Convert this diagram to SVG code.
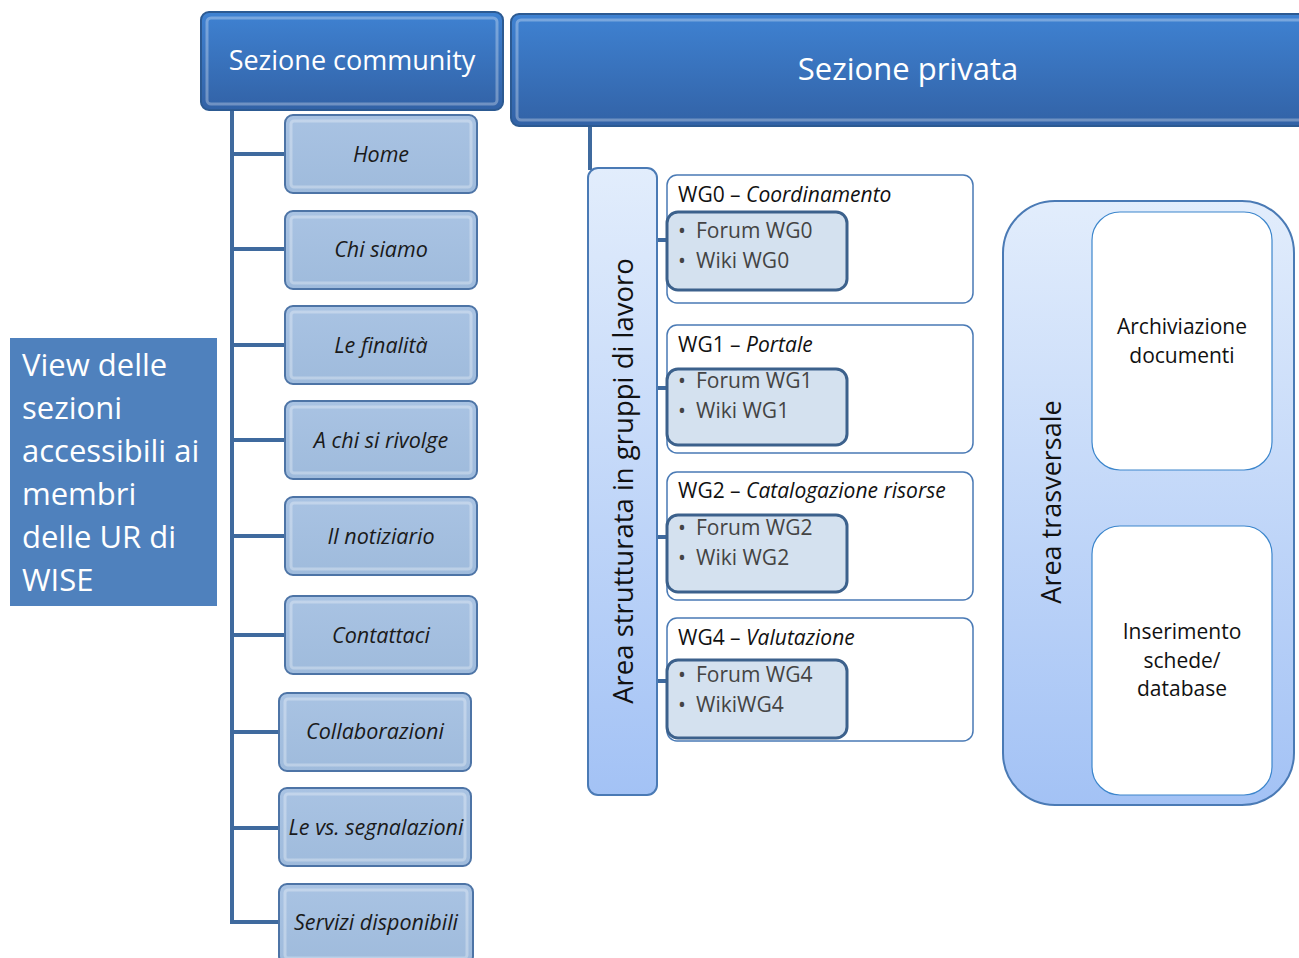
<svg xmlns="http://www.w3.org/2000/svg" width="1299" height="958" viewBox="0 0 1299 958">
<style>
.txt{font-family:"Open Sans","Liberation Sans",sans-serif}
.head{fill:url(#gHead);stroke:#2c5a92;stroke-width:2}
.child{fill:url(#gChild);stroke:#4d74a6;stroke-width:2}
.bevel{fill:none;stroke:#ffffff;stroke-opacity:0.3;stroke-width:3}
.ctext{font-family:"Open Sans","Liberation Sans",sans-serif;font-style:italic;font-size:21.5px;fill:#1a1a1a;text-anchor:middle}
.htext{font-family:"Open Sans","Liberation Sans",sans-serif;fill:#ffffff;text-anchor:middle}
.conn{stroke:#3f6a9e;stroke-width:4;fill:none}
.wg{fill:#ffffff;stroke:#4a7ab5;stroke-width:1.5}
.inner{fill:#d4e1ef;stroke:#3c618c;stroke-width:3}
.wgt{font-family:"Open Sans","Liberation Sans",sans-serif;font-size:21px;fill:#111}
.bul{font-family:"Open Sans","Liberation Sans",sans-serif;font-size:21px;fill:#444}
.side{font-family:"Open Sans","Liberation Sans",sans-serif;font-size:21px;fill:#111;text-anchor:middle}
</style>
<defs>
<linearGradient id="gHead" x1="0" y1="0" x2="0" y2="1">
<stop offset="0" stop-color="#3f82d2"/>
<stop offset="1" stop-color="#3262a6"/>
</linearGradient>
<linearGradient id="gChild" x1="0" y1="0" x2="0" y2="1">
<stop offset="0" stop-color="#a9c3e3"/>
<stop offset="1" stop-color="#9fbbdc"/>
</linearGradient>
<linearGradient id="gArea" x1="0" y1="0" x2="0" y2="1">
<stop offset="0" stop-color="#e2edfc"/>
<stop offset="1" stop-color="#a3c2f5"/>
</linearGradient>
</defs>

<g id="connectors">
<line class="conn" x1="232" y1="110" x2="232" y2="924"/>
<line class="conn" x1="230" y1="154" x2="286" y2="154"/>
<line class="conn" x1="230" y1="249" x2="286" y2="249"/>
<line class="conn" x1="230" y1="345" x2="286" y2="345"/>
<line class="conn" x1="230" y1="440" x2="286" y2="440"/>
<line class="conn" x1="230" y1="536" x2="286" y2="536"/>
<line class="conn" x1="230" y1="635" x2="286" y2="635"/>
<line class="conn" x1="230" y1="732" x2="280" y2="732"/>
<line class="conn" x1="230" y1="828" x2="280" y2="828"/>
<line class="conn" x1="230" y1="922" x2="280" y2="922"/>
<line class="conn" x1="590" y1="126" x2="590" y2="170" stroke-width="3"/>
<line class="conn" x1="656" y1="240" x2="668" y2="240" stroke-width="3"/>
<line class="conn" x1="656" y1="388" x2="668" y2="388" stroke-width="3"/>
<line class="conn" x1="656" y1="537" x2="668" y2="537" stroke-width="3"/>
<line class="conn" x1="656" y1="681" x2="668" y2="681" stroke-width="3"/>
</g>

<g id="view-label">
<rect x="10" y="338" width="207" height="268" fill="#4f81bd"/>
<text class="txt" font-size="31" fill="#ffffff">
<tspan x="22" y="376">View delle</tspan>
<tspan x="22" y="419">sezioni</tspan>
<tspan x="22" y="462">accessibili ai</tspan>
<tspan x="22" y="505">membri</tspan>
<tspan x="22" y="548">delle UR di</tspan>
<tspan x="22" y="591">WISE</tspan>
</text>
</g>

<g id="sezione-community">
<rect class="head" x="201" y="12" width="302" height="98" rx="8"/>
<rect class="bevel" x="207" y="18" width="290" height="86" rx="4"/>
<text class="htext" x="352" y="70" font-size="27">Sezione community</text>
</g>

<g id="home"><rect class="child" x="285" y="115" width="192" height="78" rx="8"/><rect class="bevel" x="291" y="121" width="180" height="66" rx="3"/><text class="ctext" x="381" y="162">Home</text></g>
<g id="chi-siamo"><rect class="child" x="285" y="211" width="192" height="78" rx="8"/><rect class="bevel" x="291" y="217" width="180" height="66" rx="3"/><text class="ctext" x="381" y="257">Chi siamo</text></g>
<g id="le-finalita"><rect class="child" x="285" y="306" width="192" height="78" rx="8"/><rect class="bevel" x="291" y="312" width="180" height="66" rx="3"/><text class="ctext" x="381" y="353">Le finalità</text></g>
<g id="a-chi-si-rivolge"><rect class="child" x="285" y="401" width="192" height="78" rx="8"/><rect class="bevel" x="291" y="407" width="180" height="66" rx="3"/><text class="ctext" x="381" y="448">A chi si rivolge</text></g>
<g id="il-notiziario"><rect class="child" x="285" y="497" width="192" height="78" rx="8"/><rect class="bevel" x="291" y="503" width="180" height="66" rx="3"/><text class="ctext" x="381" y="544">Il notiziario</text></g>
<g id="contattaci"><rect class="child" x="285" y="596" width="192" height="78" rx="8"/><rect class="bevel" x="291" y="602" width="180" height="66" rx="3"/><text class="ctext" x="381" y="643">Contattaci</text></g>
<g id="collaborazioni"><rect class="child" x="279" y="693" width="192" height="78" rx="8"/><rect class="bevel" x="285" y="699" width="180" height="66" rx="3"/><text class="ctext" x="375" y="739">Collaborazioni</text></g>
<g id="segnalazioni"><rect class="child" x="279" y="788" width="192" height="78" rx="8"/><rect class="bevel" x="285" y="794" width="180" height="66" rx="3"/><text class="ctext" x="376" y="835">Le vs. segnalazioni</text></g>
<g id="servizi"><rect class="child" x="279" y="884" width="194" height="80" rx="8"/><rect class="bevel" x="285" y="890" width="182" height="68" rx="3"/><text class="ctext" x="376" y="930">Servizi disponibili</text></g>

<g id="sezione-privata">
<rect class="head" x="511" y="14" width="800" height="112" rx="8"/>
<rect class="bevel" x="517" y="20" width="790" height="100" rx="4"/>
<text class="htext" x="908" y="80" font-size="31">Sezione privata</text>
</g>

<g id="area-strutturata">
<rect x="588" y="168" width="69" height="627" rx="10" fill="url(#gArea)" stroke="#4a7ab5" stroke-width="2"/>
<text class="txt" font-size="27.5" fill="#111" text-anchor="middle" transform="translate(633,481) rotate(-90)">Area strutturata in gruppi di lavoro</text>
</g>

<g id="wg0">
<rect class="wg" x="667" y="175" width="306" height="128" rx="10"/>
<text class="wgt" x="678" y="202">WG0 – <tspan font-style="italic">Coordinamento</tspan></text>
<rect class="inner" x="667" y="212" width="180" height="78" rx="11"/>
<text class="bul" x="678" y="238">•<tspan x="696">Forum WG0</tspan></text>
<text class="bul" x="678" y="268">•<tspan x="696">Wiki WG0</tspan></text>
</g>
<g id="wg1">
<rect class="wg" x="667" y="325" width="306" height="128" rx="10"/>
<text class="wgt" x="678" y="352">WG1 – <tspan font-style="italic">Portale</tspan></text>
<rect class="inner" x="667" y="369" width="180" height="76" rx="11"/>
<text class="bul" x="678" y="388">•<tspan x="696">Forum WG1</tspan></text>
<text class="bul" x="678" y="418">•<tspan x="696">Wiki WG1</tspan></text>
</g>
<g id="wg2">
<rect class="wg" x="667" y="472" width="306" height="128" rx="10"/>
<text class="wgt" x="678" y="498">WG2 – <tspan font-style="italic">Catalogazione risorse</tspan></text>
<rect class="inner" x="667" y="515" width="180" height="77" rx="11"/>
<text class="bul" x="678" y="535">•<tspan x="696">Forum WG2</tspan></text>
<text class="bul" x="678" y="565">•<tspan x="696">Wiki WG2</tspan></text>
</g>
<g id="wg4">
<rect class="wg" x="667" y="618" width="306" height="123" rx="10"/>
<text class="wgt" x="678" y="645">WG4 – <tspan font-style="italic">Valutazione</tspan></text>
<rect class="inner" x="667" y="660" width="180" height="78" rx="11"/>
<text class="bul" x="678" y="682">•<tspan x="696">Forum WG4</tspan></text>
<text class="bul" x="678" y="712">•<tspan x="696">WikiWG4</tspan></text>
</g>

<g id="area-trasversale">
<rect x="1003" y="201" width="291" height="604" rx="52" fill="url(#gArea)" stroke="#4a7ab5" stroke-width="2"/>
<text class="txt" font-size="27" fill="#111" text-anchor="middle" transform="translate(1061,502) rotate(-90)">Area trasversale</text>
</g>
<g id="archiviazione">
<rect x="1092" y="212" width="180" height="258" rx="28" fill="#ffffff" stroke="#3c86cc" stroke-width="1.2"/>
<text class="side"><tspan x="1182" y="334">Archiviazione</tspan><tspan x="1182" y="363">documenti</tspan></text>
</g>
<g id="inserimento">
<rect x="1092" y="526" width="180" height="269" rx="28" fill="#ffffff" stroke="#3c86cc" stroke-width="1.2"/>
<text class="side"><tspan x="1182" y="639">Inserimento</tspan><tspan x="1182" y="668">schede/</tspan><tspan x="1182" y="696">database</tspan></text>
</g>
</svg>
